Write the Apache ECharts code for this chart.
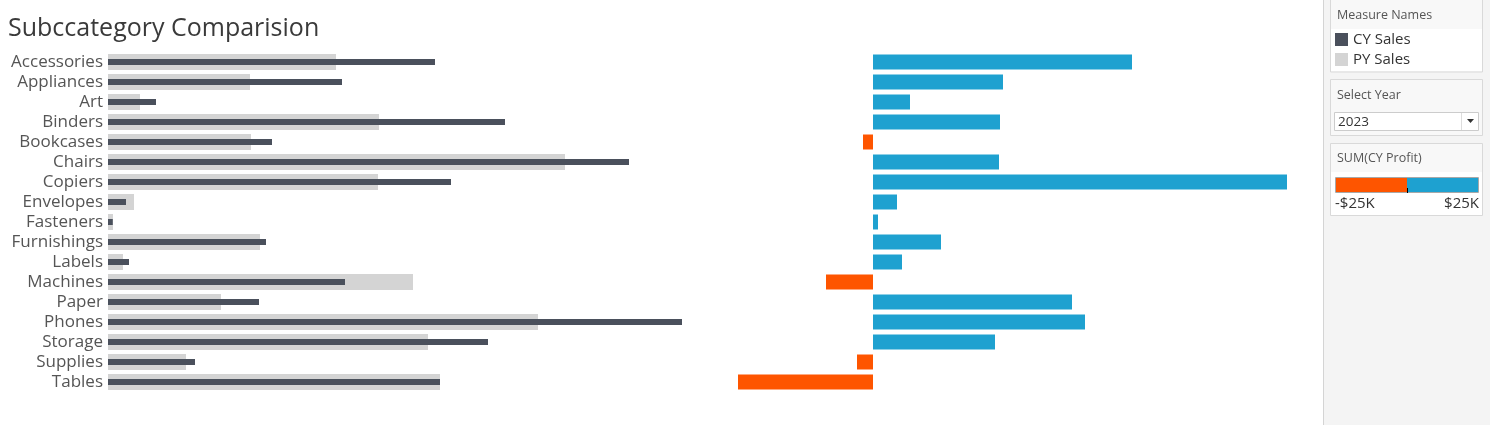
<!DOCTYPE html>
<html><head><meta charset="utf-8">
<script src="https://cdn.jsdelivr.net/npm/echarts@6/dist/echarts.min.js"></script>
<style>html,body{margin:0;padding:0;background:#fff}#c{width:1490px;height:425px}</style>
</head><body><div id="c"></div>
<script>
const categories = ["Accessories","Appliances","Art","Binders","Bookcases","Chairs","Copiers","Envelopes","Fasteners","Furnishings","Labels","Machines","Paper","Phones","Storage","Supplies","Tables"];
const pySales = [41040,25560,5760,48780,25740,82260,48600,4680,900,27360,2700,54900,20340,77400,57600,14040,59760];
const cySales = [58860,42120,8640,71460,29520,93780,61740,3240,860,28440,3780,42660,27180,103320,68400,15660,59760];
const cyProfit = [11137,5590,1591,5461,-430,5418,17802,1032,215,2924,1247,-2021,8557,9116,5246,-688,-5805];
const legendItems = ["CY Sales","PY Sales"];
const yearOptions = ["2023"];
const profitLegendLabels = ["-$25K","$25K"];

const DARK = "#4a505c", LIGHT = "#d4d4d4", BLUE = "#1ea1d0", ORANGE = "#fe5500";
const FONT = "'Open Sans', 'Noto Sans', sans-serif";

const chart = echarts.init(document.getElementById('c'), null, {renderer: 'canvas'});

const panel = [];
panel.push({type:'rect', shape:{x:1323,y:0,width:167,height:425}, style:{fill:'#f4f4f4'}, silent:true});
panel.push({type:'line', shape:{x1:1323.5,y1:0,x2:1323.5,y2:425}, style:{stroke:'#d4d4d4',lineWidth:1}});
// Box 1
panel.push({type:'rect', shape:{x:1330.5,y:-1,width:152,height:73}, style:{fill:'#f8f8f8',stroke:'#d9d9d9',lineWidth:1}});
panel.push({type:'rect', shape:{x:1331,y:29,width:151,height:42}, style:{fill:'#ffffff'}});
panel.push({type:'text', x:1337, y:15, style:{text:'Measure Names', font:'12.5px '+FONT, fill:'#555', verticalAlign:'middle'}});
panel.push({type:'rect', shape:{x:1335,y:33,width:13,height:13}, style:{fill:DARK}});
panel.push({type:'text', x:1353, y:40, style:{text:legendItems[0], font:'15px '+FONT, fill:'#333', verticalAlign:'middle'}});
panel.push({type:'rect', shape:{x:1335,y:53,width:13,height:13}, style:{fill:LIGHT}});
panel.push({type:'text', x:1353, y:60, style:{text:legendItems[1], font:'15px '+FONT, fill:'#333', verticalAlign:'middle'}});
// Box 2
panel.push({type:'rect', shape:{x:1330.5,y:79.5,width:152,height:56}, style:{fill:'#f8f8f8',stroke:'#d9d9d9',lineWidth:1}});
panel.push({type:'text', x:1337, y:95, style:{text:'Select Year', font:'12.5px '+FONT, fill:'#555', verticalAlign:'middle'}});
panel.push({type:'rect', shape:{x:1334.5,y:112.5,width:144,height:18}, style:{fill:'#fff',stroke:'#cccccc',lineWidth:1}});
panel.push({type:'line', shape:{x1:1461.5,y1:113,x2:1461.5,y2:130}, style:{stroke:'#dddddd',lineWidth:1}});
panel.push({type:'text', x:1338, y:122, style:{text:yearOptions[0], font:'13.5px '+FONT, fill:'#333', verticalAlign:'middle'}});
panel.push({type:'polygon', shape:{points:[[1467,119],[1474,119],[1470.5,123]]}, style:{fill:'#333'}});
// Box 3
panel.push({type:'rect', shape:{x:1330.5,y:143.5,width:152,height:72}, style:{fill:'#ffffff',stroke:'#d9d9d9',lineWidth:1}});
panel.push({type:'rect', shape:{x:1331,y:144,width:151,height:28}, style:{fill:'#f8f8f8'}});
panel.push({type:'text', x:1337, y:158, style:{text:'SUM(CY Profit)', font:'12.5px '+FONT, fill:'#555', verticalAlign:'middle'}});
panel.push({type:'rect', shape:{x:1335.5,y:177.5,width:143,height:15}, style:{fill:'#fff',stroke:'#a8a8a8',lineWidth:1}});
panel.push({type:'rect', shape:{x:1336,y:178,width:71,height:14}, style:{fill:ORANGE}});
panel.push({type:'rect', shape:{x:1407,y:178,width:71,height:14}, style:{fill:BLUE}});
panel.push({type:'line', shape:{x1:1407.5,y1:188,x2:1407.5,y2:193}, style:{stroke:'#000',lineWidth:1}});
panel.push({type:'text', x:1335, y:204, style:{text:profitLegendLabels[0], font:'15px '+FONT, fill:'#333', verticalAlign:'middle'}});
panel.push({type:'text', x:1479, y:204, style:{text:profitLegendLabels[1], font:'15px '+FONT, fill:'#333', verticalAlign:'middle', align:'right'}});

const catAxis = (gridIndex, show) => ({
  type:'category', data:categories, inverse:true, gridIndex,
  axisLine:{show:false}, axisTick:{show:false}, splitLine:{show:false},
  axisLabel:{show, interval:0, color:'#555', fontSize:17, fontFamily:FONT, margin:5, padding:[4,0,0,0]}
});

chart.setOption({
  animation:false,
  title:{text:'Subccategory Comparision', left:3, top:11, textStyle:{fontFamily:FONT, fontSize:25, fontWeight:'normal', color:'#3a3a3a'}},
  grid:[
    {left:108, top:52, width:600, height:340},
    {left:700, top:52, width:600, height:340}
  ],
  xAxis:[
    {type:'value', gridIndex:0, min:0, max:108000, show:false},
    {type:'value', gridIndex:1, min:-7439, max:18361, show:false}
  ],
  yAxis:[catAxis(0,true), catAxis(0,false), catAxis(1,false)],
  series:[
    {name:'PY Sales', type:'bar', xAxisIndex:0, yAxisIndex:0, data:pySales, barWidth:16, itemStyle:{color:LIGHT}, silent:true},
    {name:'CY Sales', type:'bar', xAxisIndex:0, yAxisIndex:1, data:cySales, barWidth:6, itemStyle:{color:DARK}, silent:true},
    {name:'CY Profit', type:'bar', xAxisIndex:1, yAxisIndex:2, barWidth:15,
      data:cyProfit.map(v => ({value:v, itemStyle:{color: v < 0 ? ORANGE : BLUE}})), silent:true}
  ],
  graphic:panel
});
</script></body></html>
